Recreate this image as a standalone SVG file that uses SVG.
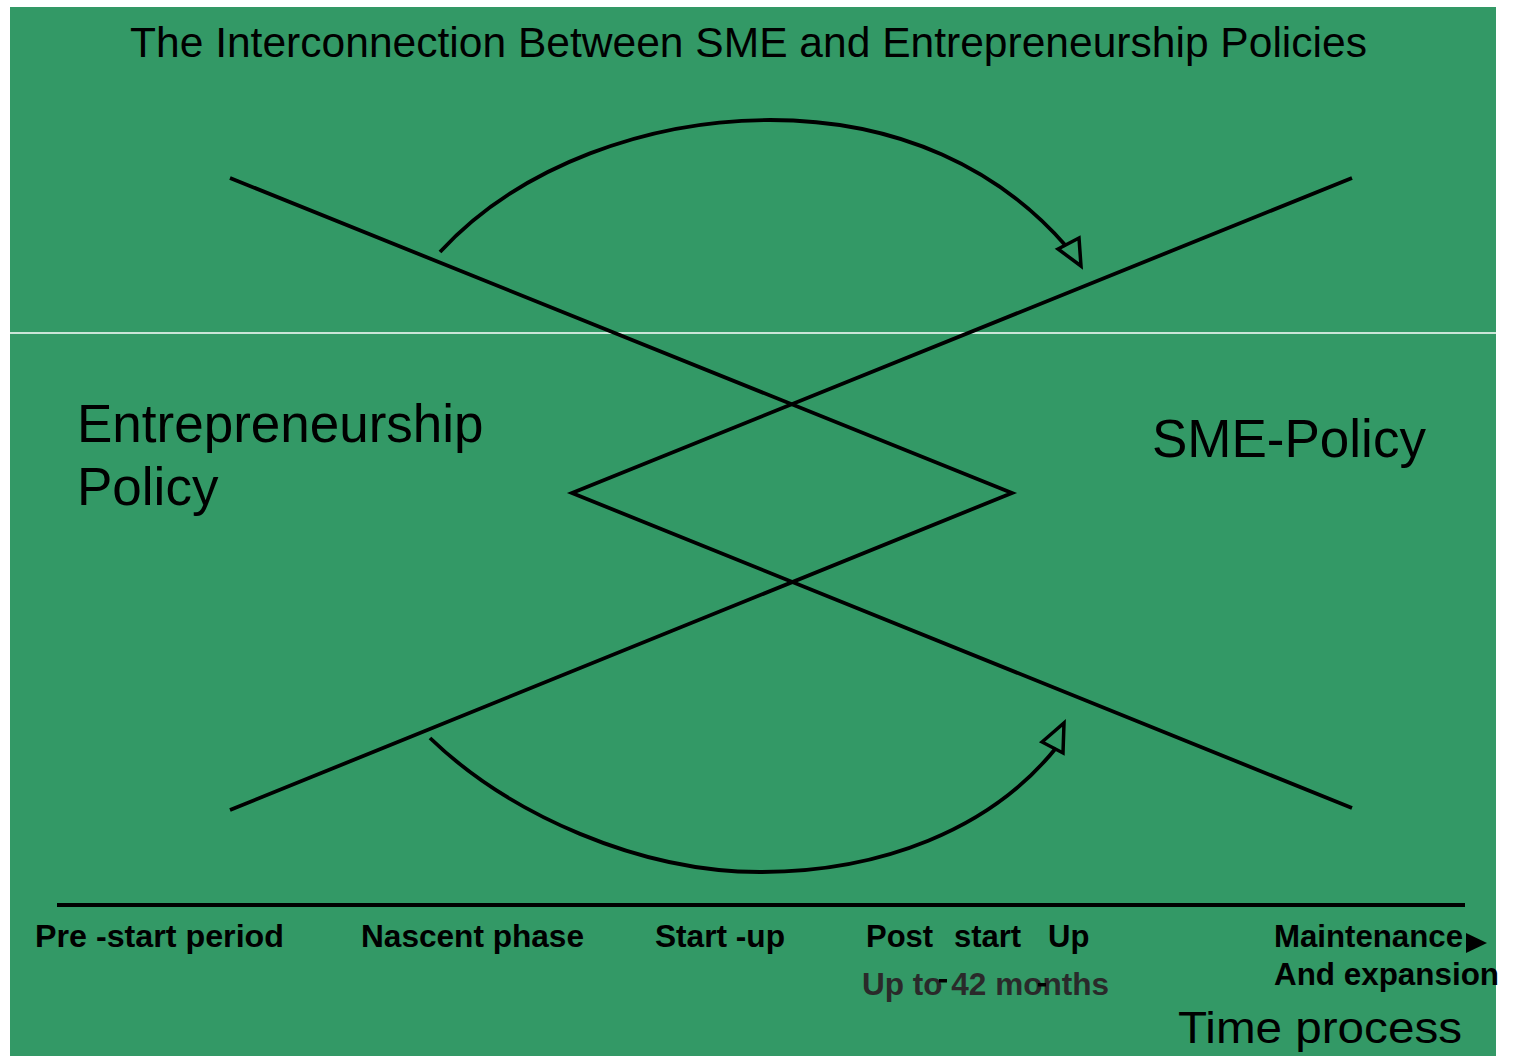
<svg xmlns="http://www.w3.org/2000/svg" width="1513" height="1056" viewBox="0 0 1513 1056">
<style>
.ln{fill:none;stroke:#000;stroke-width:3.8;stroke-linejoin:miter}
.arc{fill:none;stroke:#000;stroke-width:3.8}
.head{fill:none;stroke:#000;stroke-width:3.5;stroke-linejoin:miter}
.t{font-family:"Liberation Sans",Arial,sans-serif;fill:#000}
.big{font-size:53px}
.lbl{font-size:31px;font-weight:bold}
</style>
<rect x="0" y="0" width="1513" height="1056" fill="#ffffff"/>
<rect x="10" y="7" width="1486" height="1049" fill="#339966"/>
<line x1="10" y1="333" x2="1496" y2="333" stroke="#ffffff" stroke-width="1.5"/>
<text class="t" x="130" y="57" font-size="42" textLength="1237" lengthAdjust="spacingAndGlyphs">The Interconnection Between SME and Entrepreneurship Policies</text>
<g id="connectors">
<polyline class="ln" points="230,178 1012,493 230,810"/>
<polyline class="ln" points="1352,178 572,493 1352,808"/>
<path class="arc" d="M440,252 C520,165 650,120 770,120 C900,120 1000,170 1066,246"/>
<polygon class="head" points="1058,249 1079,238 1081,266"/>
<path class="arc" d="M430,738 C510,815 640,872 760,872 C880,872 990,830 1056,748"/>
<polygon class="head" points="1042,742 1064,723 1063,753"/>
<line x1="57" y1="905" x2="1465" y2="905" stroke="#000" stroke-width="3.8"/>
<polygon points="1466,933 1487,943 1466,953" fill="#000"/>
</g>
<g id="entrepreneurship-policy">
<text class="t big" x="77" y="442">Entrepreneurship</text>
<text class="t big" x="77" y="505">Policy</text>
</g>
<g id="sme-policy">
<text class="t big" x="1152" y="457">SME-Policy</text>
</g>
<g id="timeline">
<text class="t lbl" x="35" y="947" textLength="249" lengthAdjust="spacingAndGlyphs">Pre -start period</text>
<text class="t lbl" x="361" y="947" textLength="223" lengthAdjust="spacingAndGlyphs">Nascent phase</text>
<text class="t lbl" x="655" y="947" textLength="130" lengthAdjust="spacingAndGlyphs">Start -up</text>
<text class="t lbl" y="947"><tspan x="866">Post</tspan><tspan x="954">start</tspan><tspan x="1048">Up</tspan></text>
<text class="t lbl" x="1274" y="947" textLength="189" lengthAdjust="spacingAndGlyphs">Maintenance</text>
<text class="t lbl" x="1274" y="985" textLength="225" lengthAdjust="spacingAndGlyphs">And expansion</text>
<text class="t lbl" x="862" y="995" style="fill:#2a2a2a" textLength="247" lengthAdjust="spacingAndGlyphs">Up to 42 months</text>
<rect x="939" y="979" width="8" height="3.5" fill="#000"/>
<rect x="1038" y="983" width="8" height="3.5" fill="#000"/>
<text class="t" x="1178" y="1043" font-size="44" textLength="284" lengthAdjust="spacingAndGlyphs">Time process</text>
</g>
</svg>
